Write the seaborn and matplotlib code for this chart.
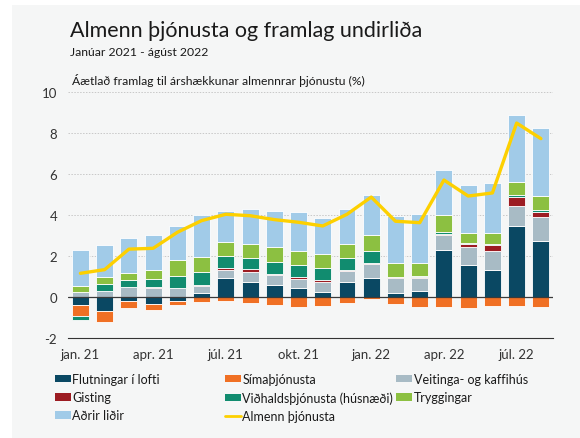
import numpy as np
import pandas as pd
import matplotlib
matplotlib.use("Agg")
import matplotlib.pyplot as plt
import seaborn as sns
from matplotlib.patches import Rectangle, Patch
from matplotlib.lines import Line2D

months = ["jan. 21", "feb. 21", "mar. 21", "apr. 21", "maí 21", "jún. 21",
          "júl. 21", "ágú. 21", "sep. 21", "okt. 21", "nóv. 21", "des. 21",
          "jan. 22", "feb. 22", "mar. 22", "apr. 22", "maí 22", "jún. 22",
          "júl. 22", "ágú. 22"]

flutningar = [-0.39, -0.67, -0.20, -0.31, -0.18, 0.23, 0.92, 0.77, 0.61, 0.44,
              0.28, 0.75, 0.96, 0.21, 0.29, 2.29, 1.59, 1.32, 3.46, 2.75]
simathjonusta = [-0.54, -0.53, -0.33, -0.31, -0.20, -0.23, -0.18, -0.30, -0.39, -0.46,
                 -0.44, -0.29, -0.10, -0.31, -0.46, -0.47, -0.54, -0.44, -0.42, -0.49]
veitinga = [0.26, 0.30, 0.49, 0.46, 0.44, 0.33, 0.41, 0.48, 0.49, 0.45,
            0.47, 0.53, 0.67, 0.73, 0.65, 0.73, 0.85, 0.94, 1.01, 1.15]
gisting = [0.00, 0.00, 0.00, 0.03, 0.00, 0.05, 0.10, 0.13, 0.05, 0.09,
           0.10, 0.05, 0.06, 0.05, 0.05, 0.07, 0.15, 0.28, 0.41, 0.28]
vidhald = [-0.18, 0.34, 0.36, 0.38, 0.58, 0.60, 0.59, 0.55, 0.59, 0.59,
           0.58, 0.57, 0.59, 0.01, 0.03, 0.08, 0.08, 0.06, 0.10, 0.06]
tryggingar = [0.30, 0.36, 0.35, 0.46, 0.80, 0.76, 0.67, 0.69, 0.69, 0.71,
              0.67, 0.69, 0.74, 0.69, 0.65, 0.85, 0.48, 0.55, 0.65, 0.70]
adrir = [1.77, 1.57, 1.69, 1.72, 1.66, 2.03, 1.54, 1.68, 1.80, 1.87,
         1.79, 1.72, 1.96, 2.28, 2.40, 2.18, 2.31, 2.41, 3.28, 3.30]
almenn = [1.17, 1.35, 2.35, 2.39, 3.17, 3.74, 4.05, 3.98, 3.79, 3.66,
          3.48, 4.05, 4.89, 3.71, 3.64, 5.72, 4.94, 5.09, 8.50, 7.74]

series_names = ["Flutningar í lofti", "Símaþjónusta", "Veitinga- og kaffihús", "Gisting",
                "Viðhaldsþjónusta (húsnæði)", "Tryggingar", "Aðrir liðir"]
series_values = [flutningar, simathjonusta, veitinga, gisting, vidhald, tryggingar, adrir]
series_colors = ["#0a4863", "#f07024", "#a8bbc5", "#9c1c22", "#118c6f", "#8cc041", "#a1cbe8"]
line_name = "Almenn þjónusta"
line_color = "#fdd000"

tick_label_months = ["jan. 21", "apr. 21", "júl. 21", "okt. 21", "jan. 22", "apr. 22", "júl. 22"]

sns.set_theme(style="white")
plt.rcParams["font.family"] = ["Lato", "DejaVu Sans"]

W, H = 580, 439
fig = plt.figure(figsize=(W / 100, H / 100), dpi=100, facecolor="white")
fig.patches.append(Rectangle((12 / W, 0), 1 - 12 / W, 1 - 6 / H, transform=fig.transFigure,
                             facecolor="#f5f6f6", edgecolor="none", zorder=-10))

ax = fig.add_axes([68.3 / W, 1 - 339.3 / H, (553 - 68.3) / W, (339.3 - 93.3) / H])
ax.set_facecolor("none")

pos_cum = np.zeros(len(months))
neg_cum = np.zeros(len(months))
for name, vals, col in zip(series_names, series_values, series_colors):
    v = np.asarray(vals, dtype=float)
    bottom = np.where(v >= 0, pos_cum, neg_cum)
    df = pd.DataFrame({"month": months, "value": v})
    sns.barplot(data=df, x="month", y="value", order=months, color=col, saturation=1,
                width=0.7, errorbar=None, bottom=bottom, edgecolor="#ffffff",
                linewidth=0.6, ax=ax, zorder=2)
    pos_cum = pos_cum + np.where(v >= 0, v, 0)
    neg_cum = neg_cum + np.where(v < 0, v, 0)

line_df = pd.DataFrame({"pos": np.arange(len(months)), "value": almenn})
sns.lineplot(data=line_df, x="pos", y="value", color=line_color, linewidth=2.4, ax=ax,
             zorder=4, sort=False)

ax.axhline(0, color="#3a3a3a", lw=0.9, zorder=3)
ax.set_ylim(-2, 10)
ax.set_xlim(-0.5, len(months) - 0.5)
ax.set_yticks([-2, 0, 2, 4, 6, 8, 10])
ax.set_yticklabels(["-2", "0", "2", "4", "6", "8", "10"], fontsize=9.5, color="#333333")
for yv in [2, 4, 6, 8, 10]:
    ax.axhline(yv, color="#c8c8c8", lw=0.7, ls=(0, (1.5, 1.5)), zorder=0)

major = [i - 0.5 for i in range(0, len(months) - 1, 3)]
minor_pos = [months.index(m) for m in tick_label_months]
ax.set_xticks(major)
ax.set_xticklabels([""] * len(major))
ax.set_xticks(minor_pos, labels=tick_label_months, minor=True)
ax.tick_params(axis="x", which="major", direction="in", length=4, width=0.8, color="#333333")
ax.tick_params(axis="x", which="minor", length=0, pad=7, labelsize=9.5, labelcolor="#333333")
ax.tick_params(axis="y", length=0, pad=8)
ax.set_xlabel("")
ax.set_ylabel("")
for s in ["top", "right", "left"]:
    ax.spines[s].set_visible(False)
ax.spines["bottom"].set_color("#333333")
ax.spines["bottom"].set_linewidth(0.8)
if ax.get_legend() is not None:
    ax.get_legend().remove()

fig.text(70 / W, 1 - 37 / H, "Almenn þjónusta og framlag undirliða", fontsize=15.5,
         color="#1a1a1a", va="baseline")
fig.text(70 / W, 1 - 56 / H, "Janúar 2021 - ágúst 2022", fontsize=8.8, color="#1a1a1a",
         va="baseline")
fig.text(72 / W, 1 - 85 / H, "Áætlað framlag til árshækkunar almennrar þjónustu (%)",
         fontsize=8.7, color="#1a1a1a", va="baseline")

handles = [Patch(facecolor=c, edgecolor="none") for c in series_colors]
handles.append(Line2D([0], [0], color=line_color, lw=2))
labels = series_names + [line_name]
cols = [[0, 3, 6], [1, 4, 7], [2, 5]]
col_x = [55, 225, 396]
for cx, idxs in zip(col_x, cols):
    leg = fig.legend([handles[i] for i in idxs], [labels[i] for i in idxs],
                     loc="upper left", bbox_to_anchor=(cx / W, 1 - 374 / H),
                     frameon=False, fontsize=9, handlelength=1.3, handleheight=0.55,
                     handletextpad=0.1, labelspacing=0.5, borderaxespad=0, borderpad=0)
    for t in leg.get_texts():
        t.set_color("#1a1a1a")

fig.savefig("out.png", dpi=100, facecolor=fig.get_facecolor())
